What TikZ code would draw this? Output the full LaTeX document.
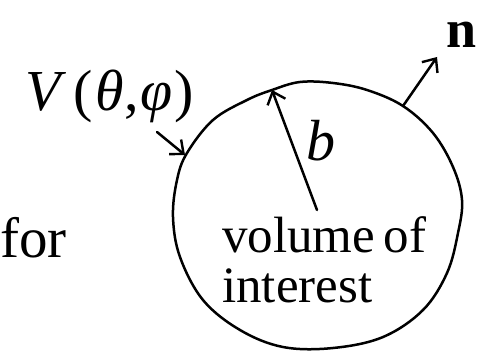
\documentclass[tikz,border=0pt]{standalone}
\usepackage{fontspec}
\setmainfont{Liberation Serif}
\usetikzlibrary{arrows.meta}
\tikzset{
  ink/.style={line width=2.5pt, line cap=round, line join=round},
  barb/.style={ink, -{Straight Barb[length=11pt, width=19pt, line width=2.4pt]}},
  lbl/.style={inner sep=0pt, anchor=base west}
}
\begin{document}
\begin{tikzpicture}[x=1pt, y=-1pt]
\useasboundingbox (0,0) rectangle (479,353);
% hand-drawn outline of the volume
\draw[ink] plot[smooth cycle, tension=0.6] coordinates {
  (187,153) (213,120) (247,100) (272,90) (300,82) (333,83) (367,90)
  (403,106) (433,133) (453,167) (462,200) (458,233) (447,273) (423,310)
  (383,337) (333,348) (283,347) (240,330) (203,300) (180,257) (173,217) (177,180)};
% labels
\node[lbl, font=\fontsize{58}{60}\selectfont] (V) at (25,110) {\textit{V}\kern7pt(\kern3pt\textit{θ},\kern2pt\textit{φ}\kern2pt)};
\node[lbl, font=\fontsize{57}{59}\selectfont] (for) at (0,257) {for};
\node[lbl, font=\fontsize{51}{53}\selectfont] (vol) at (222,252) {volume\,of};
\node[lbl, font=\fontsize{51}{53}\selectfont] (int) at (222,302) {interest};
\node[lbl, font=\fontsize{58}{60}\selectfont] (b) at (306,160) {\textit{b}};
\node[lbl, font=\fontsize{54}{56}\selectfont\bfseries] (n) at (446,48) {n};
% connectors
\coordinate (vs) at (157,132);
\coordinate (vt) at (185,155);
\coordinate (bs) at (317,210);
\coordinate (bt) at (272,90);
\coordinate (ns) at (403,106);
\coordinate (nt) at (437,57);
\draw[barb] (vs) -- (vt);
\draw[barb] (bs) -- (bt);
\draw[barb] (ns) -- (nt);
\end{tikzpicture}
\end{document}
